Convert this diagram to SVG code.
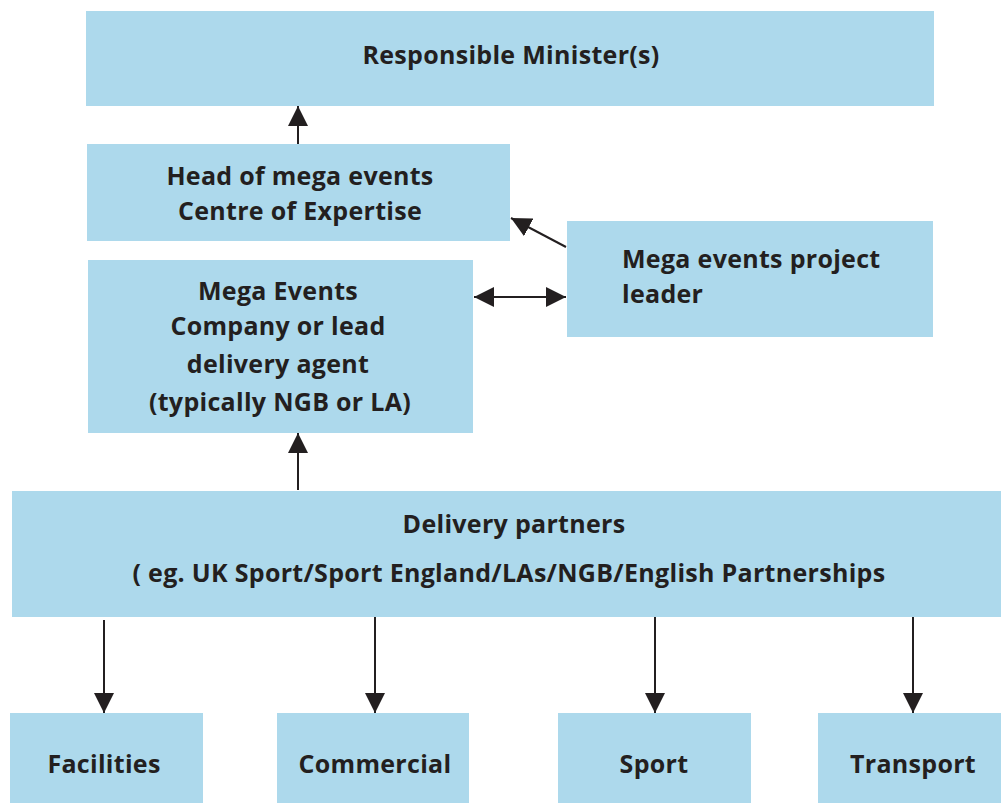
<svg xmlns="http://www.w3.org/2000/svg" width="1001" height="803" viewBox="0 0 1001 803">
<style>
.box{fill:#ADD9EC}
.t{font-family:"Open Sans",sans-serif;font-weight:bold;font-size:25px;letter-spacing:0.3px;fill:#231F20}
.c{text-anchor:middle}
.ln{stroke:#231F20;stroke-width:2;fill:none}
</style>
<defs>
<marker id="ah" viewBox="0 0 20 20" refX="20" refY="10" markerWidth="20" markerHeight="20" markerUnits="userSpaceOnUse" orient="auto-start-reverse">
<path d="M0,0 L20,10 L0,20 Z" fill="#231F20"/>
</marker>
</defs>
<rect width="1001" height="803" fill="#fff"/>
<g id="minister"><rect class="box" x="86" y="11" width="848" height="95"/><text class="t c" x="511" y="64">Responsible Minister(s)</text></g>
<g id="head"><rect class="box" x="87" y="144" width="423" height="97"/><text class="t c" x="300" y="185">Head of mega events</text><text class="t c" x="300" y="220">Centre of Expertise</text></g>
<g id="leader"><rect class="box" x="567" y="221" width="366" height="116"/><text class="t" x="622" y="268">Mega events project</text><text class="t" x="622" y="303">leader</text></g>
<g id="company"><rect class="box" x="88" y="260" width="385" height="173"/><text class="t c" x="278" y="300">Mega Events</text><text class="t c" x="278" y="335">Company or lead</text><text class="t c" x="278" y="373">delivery agent</text><text class="t c" x="280" y="411">(typically NGB or LA)</text></g>
<g id="partners"><rect class="box" x="12" y="491" width="989" height="126"/><text class="t c" x="514" y="533">Delivery partners</text><text class="t c" x="509" y="582">( eg. UK Sport/Sport England/LAs/NGB/English Partnerships</text></g>
<g id="facilities"><rect class="box" x="10" y="713" width="193" height="90"/><text class="t c" x="104" y="773">Facilities</text></g>
<g id="commercial"><rect class="box" x="277" y="713" width="192" height="90"/><text class="t c" x="375" y="773">Commercial</text></g>
<g id="sport"><rect class="box" x="558" y="713" width="193" height="90"/><text class="t c" x="654" y="773">Sport</text></g>
<g id="transport"><rect class="box" x="818" y="713" width="183" height="90"/><text class="t c" x="913" y="773">Transport</text></g>
<g id="connectors">
<line class="ln" x1="298" y1="144" x2="298" y2="106" marker-end="url(#ah)"/>
<line class="ln" x1="566" y1="247" x2="511" y2="218" marker-end="url(#ah)"/>
<line class="ln" x1="474" y1="297" x2="566" y2="297" marker-start="url(#ah)" marker-end="url(#ah)"/>
<line class="ln" x1="298" y1="490" x2="298" y2="433" marker-end="url(#ah)"/>
<line class="ln" x1="104" y1="620" x2="104" y2="713" marker-end="url(#ah)"/>
<line class="ln" x1="375" y1="617" x2="375" y2="713" marker-end="url(#ah)"/>
<line class="ln" x1="655" y1="617" x2="655" y2="713" marker-end="url(#ah)"/>
<line class="ln" x1="913" y1="617" x2="913" y2="713" marker-end="url(#ah)"/>
</g>
</svg>
